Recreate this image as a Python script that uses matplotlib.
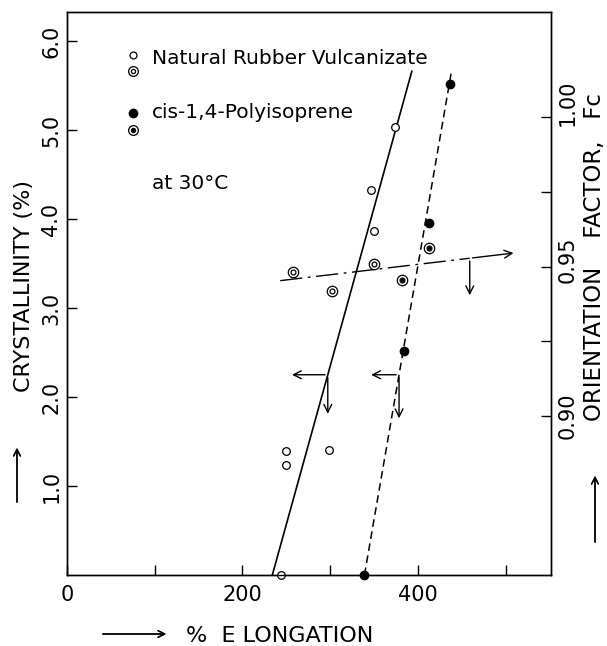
import matplotlib
matplotlib.use("Agg")
import matplotlib.pyplot as plt
import matplotlib.transforms as mtransforms

# crystallinity (%) vs % elongation
nr_elong = [244, 250, 250, 299, 347, 350, 374]
nr_cryst = [0.0, 1.39, 1.24, 1.41, 4.33, 3.86, 5.03]
ir_elong = [339, 384, 413, 436]
ir_cryst = [0.0, 2.52, 3.96, 5.52]

# orientation factor Fc vs % elongation
nr_fc_elong = [258, 302, 350]
nr_fc = [0.9481, 0.9419, 0.9509]
ir_fc_elong = [382, 413]
ir_fc = [0.9455, 0.9562]

# drawn fit lines (end points)
nr_fit_x = [234, 393]
nr_fit_y = [0.0, 5.66]
ir_fit_x = [339, 438]
ir_fit_y = [0.0, 5.65]
fc_fit_x = [243, 459]
fc_fit_y = [0.9453, 0.9528]
fc_arrow_end = 512

# arrows marking where crystallinity / Fc are read
arrow_level = 2.25
left_arrow_len = [44, 35]
down_arrow_len = [0.47, 0.52]
fc_down_len = 0.0133

W, H = 607, 646
fig = plt.figure(figsize=(W / 100, H / 100), dpi=100)
ax = fig.add_axes([67 / W, 71 / H, 484 / W, 563 / H])
ax.set_xlim(0, 551.6)
ax.set_ylim(0, 6.326)
ax2 = ax.twinx()
ax2.set_ylim(0.8468, 1.0352)

for a in (ax, ax2):
    for s in a.spines.values():
        s.set_linewidth(1.0)

ax.set_xticks([0, 100, 200, 300, 400, 500])
ax.set_xticklabels(["0", "", "200", "", "400", ""])
ax.set_yticks([1, 2, 3, 4, 5, 6])
ax.set_yticklabels(["1.0", "2.0", "3.0", "4.0", "5.0", "6.0"])
ax.tick_params(direction="in", length=7, width=1.0, labelsize=15)
ax.tick_params(axis="x", pad=7)
ax.tick_params(axis="y", labelrotation=90, pad=4)
for t in ax.get_yticklabels():
    t.set_va("center")

ax2.set_yticks([0.90, 0.925, 0.95, 0.975, 1.00])
ax2.set_yticklabels(["0.90", "", "0.95", "", "1.00"])
ax2.tick_params(direction="in", length=7, width=1.0, labelsize=15,
                labelrotation=90, pad=5)
# hand lettering sits a little above the 0.95 and 1.00 ticks
label_shift = [0, 0, 7, 0, 14]
for t, sh in zip(ax2.get_yticklabels(), label_shift):
    t.set_va("center")
    t.set_transform(t.get_transform() + mtransforms.ScaledTranslation(0, sh / 100, fig.dpi_scale_trans))

# fit lines
ax.plot(nr_fit_x, nr_fit_y, color="black", lw=1.2)
ax.plot(ir_fit_x, ir_fit_y, color="black", lw=1.1, dashes=(5, 3))
ax2.plot(fc_fit_x, fc_fit_y, color="black", lw=1.0, dashes=(16, 4, 2, 4))
slope = (fc_fit_y[1] - fc_fit_y[0]) / (fc_fit_x[1] - fc_fit_x[0])
ax2.annotate("", xy=(fc_arrow_end, fc_fit_y[1] + slope * (fc_arrow_end - fc_fit_x[1])),
             xytext=(fc_fit_x[1], fc_fit_y[1]),
             arrowprops=dict(arrowstyle="->", lw=1.0, mutation_scale=14))
ax2.annotate("", xy=(fc_fit_x[1], fc_fit_y[1] - fc_down_len),
             xytext=(fc_fit_x[1], fc_fit_y[1]),
             arrowprops=dict(arrowstyle="->", lw=1.0, mutation_scale=14))

# arrows from crystallinity lines
for (fx, fy), dl, dd in zip([(nr_fit_x, nr_fit_y), (ir_fit_x, ir_fit_y)],
                            left_arrow_len, down_arrow_len):
    xa = fx[0] + (arrow_level - fy[0]) * (fx[1] - fx[0]) / (fy[1] - fy[0])
    ax.annotate("", xy=(xa - dl, arrow_level), xytext=(xa, arrow_level),
                arrowprops=dict(arrowstyle="->", lw=1.0, mutation_scale=14))
    ax.annotate("", xy=(xa, arrow_level - dd), xytext=(xa, arrow_level),
                arrowprops=dict(arrowstyle="->", lw=1.0, mutation_scale=14))

# data points
ax.plot(nr_elong, nr_cryst, "o", ms=5.5, mfc="white", mec="black", mew=0.9,
        clip_on=False, zorder=5)
ax.plot(ir_elong, ir_cryst, "o", ms=6, mfc="black", mec="black",
        clip_on=False, zorder=5)
ax2.plot(nr_fc_elong, nr_fc, "o", ms=7.5, mfc="white", mec="black", mew=0.9, zorder=5)
ax2.plot(nr_fc_elong, nr_fc, "o", ms=3.5, mfc="white", mec="black", mew=0.9, zorder=6)
ax2.plot(ir_fc_elong, ir_fc, "o", ms=7.5, mfc="white", mec="black", mew=0.9, zorder=5)
ax2.plot(ir_fc_elong, ir_fc, "o", ms=3.5, mfc="black", mec="black", mew=0.9, zorder=6)

# legend block
tr = ax.transAxes
ax.plot([0.136], [0.924], "o", ms=5, mfc="white", mec="black", mew=0.9, transform=tr)
ax.plot([0.136], [0.895], "o", ms=7, mfc="white", mec="black", mew=0.9, transform=tr)
ax.plot([0.136], [0.895], "o", ms=3, mfc="white", mec="black", mew=0.9, transform=tr)
ax.plot([0.136], [0.821], "o", ms=6, mfc="black", mec="black", transform=tr)
ax.plot([0.136], [0.790], "o", ms=7, mfc="white", mec="black", mew=0.9, transform=tr)
ax.plot([0.136], [0.790], "o", ms=3, mfc="black", mec="black", mew=0.9, transform=tr)
ax.text(0.1756, 0.918, "Natural Rubber Vulcanizate", transform=tr, fontsize=14.5,
        va="center", ha="left")
ax.text(0.1756, 0.822, "cis-1,4-Polyisoprene", transform=tr, fontsize=14.5,
        va="center", ha="left")
ax.text(0.1756, 0.6945, "at 30°C", transform=tr, fontsize=14.5,
        va="center", ha="left")

# axis titles
fig.text(24 / W, 1 - 286 / H, "CRYSTALLINITY (%)", rotation=90, fontsize=16,
         ha="center", va="center")
fig.text(594 / W, 1 - 257 / H, "ORIENTATION    FACTOR,   Fc", rotation=90, fontsize=16.5,
         ha="center", va="center")
fig.text(186 / W, 1 - 636 / H, "%  E LONGATION", fontsize=16, ha="left", va="center")

# side arrows
ap = dict(arrowstyle="->", lw=1.0, mutation_scale=12)
fig.add_artist(plt.annotate("", xy=(17, H - 445), xytext=(17, H - 505),
                            xycoords="figure pixels", arrowprops=ap))
fig.add_artist(plt.annotate("", xy=(595, H - 473), xytext=(595, H - 545),
                            xycoords="figure pixels", arrowprops=ap))
fig.add_artist(plt.annotate("", xy=(169, H - 634), xytext=(100, H - 634),
                            xycoords="figure pixels", arrowprops=ap))

fig.savefig("out.png", dpi=100)
